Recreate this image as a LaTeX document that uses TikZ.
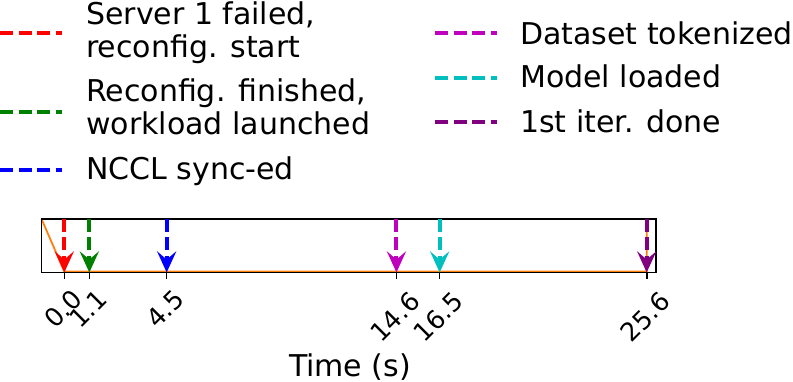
\documentclass[tikz,border=0pt]{standalone}
\usepackage{fontspec}
\setmainfont{DejaVu Sans}
\usepackage{tikz}
\usetikzlibrary{arrows.meta}
\definecolor{evred}{rgb}{1,0,0}
\definecolor{evgreen}{rgb}{0,0.5,0}
\definecolor{evblue}{rgb}{0,0,1}
\definecolor{evmag}{rgb}{0.75,0,0.75}
\definecolor{evcyan}{rgb}{0,0.75,0.75}
\definecolor{evpurple}{rgb}{0.5,0,0.5}
\definecolor{curveorange}{HTML}{FF7F0E}
\newcommand{\legfont}{\fontsize{30}{33}\selectfont}
\newcommand{\tickfont}{\fontsize{25.5}{30}\selectfont}

\begin{document}
\begin{tikzpicture}[x=1pt,y=-1pt,
  legline/.style={line width=4pt,dash pattern=on 13pt off 5.5pt},
  legtext/.style={font=\legfont,anchor=base west,inner sep=0,align=left},
  event/.style={line width=4pt,dash pattern=on 13pt off 5.5pt,-{Stealth[length=21pt,width=19pt,inset=8pt]}},
  ticklab/.style={font=\tickfont,rotate=45,inner sep=0}]
  \useasboundingbox (0,0) rectangle (793,382);
  % legende
  \draw[legline,evred] (0,33.3) -- (62,33.3);
  \node[legtext] (lred) at (86,58) {Server 1 failed,\\reconfig. start};
  \draw[legline,evgreen] (0,111.7) -- (62,111.7);
  \node[legtext] (lgreen) at (86,135) {Reconfig. finished,\\workload launched};
  \draw[legline,evblue] (0,170) -- (62,170);
  \node[legtext] (lblue) at (86,180) {NCCL sync-ed};
  \draw[legline,evmag] (435,33.3) -- (497,33.3);
  \node[legtext] (lmag) at (520,45) {Dataset tokenized};
  \draw[legline,evcyan] (435,78.3) -- (497,78.3);
  \node[legtext] (lcyan) at (520,88) {Model loaded};
  \draw[legline,evpurple] (435,122) -- (497,122);
  \node[legtext] (lpurple) at (520,133) {1st iter. done};
  % courbe et cadre
  \draw[curveorange,line width=1.8pt] (41.55,219) -- (64.3,271.5) -- (646.7,271.5) -- (646.7,219);
  \draw[line width=1.6pt] (41.55,219) rectangle (655.8,272.5);
  % evenements
  \foreach \t/\c/\ly [count=\i] in {0.0/evred/309,1.1/evgreen/309,4.5/evblue/309,
      14.6/evmag/317,16.5/evcyan/317,25.6/evpurple/317}{
    \pgfmathsetmacro{\xx}{64.3+22.75*\t}
    \coordinate (top\i) at (\xx,219);
    \coordinate (bot\i) at (\xx,272.5);
    \draw[line width=1.6pt] (bot\i) -- ++(0,7);
    \draw[event,\c] (top\i) -- (bot\i);
    \node[ticklab] (lab\i) at (\xx-1.5,\ly) {\t};}
  \node[font=\legfont,anchor=base] (xlab) at (350,376) {Time (s)};
\end{tikzpicture}
\end{document}
